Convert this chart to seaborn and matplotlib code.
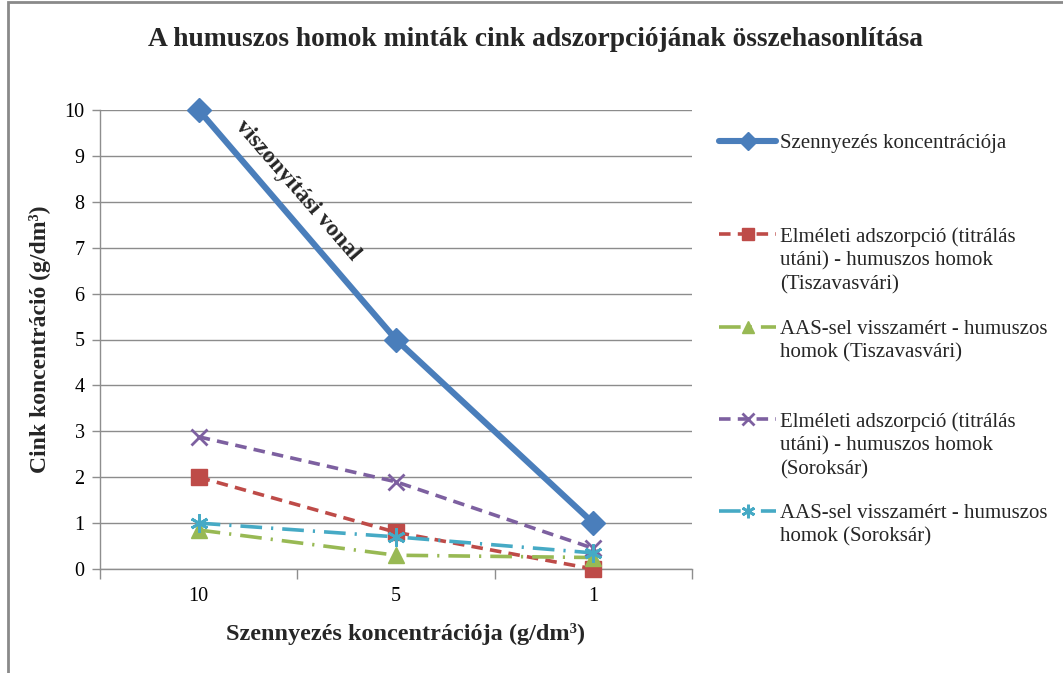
import matplotlib
matplotlib.use("Agg")
import matplotlib.pyplot as plt
import seaborn as sns
import pandas as pd
from matplotlib.patches import Rectangle

# Category axis (pollution concentration, g/dm3)
categories = ["10", "5", "1"]

# Series values (zinc concentration, g/dm3)
reference_line = [10, 5, 1]
theor_tiszavasvari = [2.0, 0.8, 0.0]
aas_tiszavasvari = [0.85, 0.3, 0.25]
theor_soroksar = [2.88, 1.9, 0.45]
aas_soroksar = [1.0, 0.7, 0.35]

series_names = [
    "Szennyezés koncentrációja",
    "Elméleti adszorpció (titrálás\nutáni) - humuszos homok\n(Tiszavasvári)",
    "AAS-sel visszamért - humuszos\nhomok (Tiszavasvári)",
    "Elméleti adszorpció (titrálás\nutáni) - humuszos homok\n(Soroksár)",
    "AAS-sel visszamért - humuszos\nhomok (Soroksár)",
]
series_values = [reference_line, theor_tiszavasvari, aas_tiszavasvari,
                 theor_soroksar, aas_soroksar]

title = "A humuszos homok minták cink adszorpciójának összehasonlítása"
x_label = "Szennyezés koncentrációja (g/dm³)"
y_label = "Cink koncentráció (g/dm³)"
annotation = "viszonyítási vonal"

colors = ["#4A7EBB", "#BE4B48", "#98B954", "#7D60A0", "#46AAC5"]
markers = ["D", "s", "^", "x", (6, 2, 0)]
marker_sizes = [12, 11, 11, 11, 13]
line_widths = [4.4, 2.6, 2.6, 2.6, 2.6]
dash_patterns = [None, (3.2, 2.0), (6, 2.5, 0.6, 2.5), (3.2, 2.0), (6, 2.5, 0.6, 2.5)]

sns.set_theme(style="white")
serif = ["Liberation Serif", "DejaVu Serif"]
plt.rcParams["font.family"] = serif

fig = plt.figure(figsize=(10.63, 6.73), dpi=100)
ax = fig.add_axes([100 / 1063, 1 - 569 / 673, 592 / 1063, 459 / 673])

df = pd.DataFrame({"cat": categories})
handles = []
for name, vals, col, mk, ms, lw, dp in zip(series_names, series_values, colors,
                                            markers, marker_sizes, line_widths,
                                            dash_patterns):
    df["val"] = vals
    sns.lineplot(data=df, x="cat", y="val", ax=ax, sort=False, color=col,
                 marker=mk, markersize=ms, linewidth=lw,
                 markeredgecolor=col, markerfacecolor=col,
                 markeredgewidth=2.0 if mk in ("x", (6, 2, 0)) else 1.0,
                 clip_on=False, zorder=3)
    line = ax.lines[-1]
    if dp is not None:
        line.set_dashes(dp)
        line.set_dash_capstyle("butt")
    handles.append(line)

ax.set_xlim(-0.5, 2.5)
ax.set_ylim(0, 10)
ax.set_yticks(range(0, 11))
ax.set_xticks([0, 1, 2])
ax.set_xticks([-0.5, 0.5, 1.5, 2.5], minor=True)
ax.tick_params(axis="x", which="major", length=0, labelsize=14.5, pad=13,
               labelcolor="black")
ax.tick_params(axis="x", which="minor", length=7, width=1, color="#8E8E8E",
               direction="out", bottom=True)
ax.tick_params(axis="y", length=6, width=1, color="#8E8E8E", direction="out",
               left=True, labelsize=14.5, pad=5, labelcolor="black")
ax.yaxis.grid(True, color="#8C8C8C", linewidth=1.0)
ax.xaxis.grid(False)
ax.set_axisbelow(True)
for side in ("top", "right"):
    ax.spines[side].set_visible(False)
for side in ("left", "bottom"):
    ax.spines[side].set_color("#8E8E8E")
    ax.spines[side].set_linewidth(1.0)

ax.set_xlabel(x_label, fontsize=17.5, fontweight="bold")
ax.xaxis.set_label_coords(0.516, -0.118)
ax.set_ylabel(y_label, fontsize=17, fontweight="bold", labelpad=10)

ax.text(0.5, 8.25, annotation, rotation=-49, rotation_mode="anchor",
        ha="center", va="center", fontsize=17, fontweight="bold", zorder=4)

fig.text(535 / 1063, 1 - 40 / 673, title, ha="center", va="center",
         fontsize=19.8, fontweight="bold")

# Legend entries placed in their own slots; handle sits beside the first line
legend_tops = [134, 227, 320, 412, 504]
for h, name, yt in zip(handles, series_names, legend_tops):
    leg = fig.legend(handles=[h], labels=[name], loc="upper left",
                     bbox_to_anchor=(719 / 1063, 1 - yt / 673), frameon=False,
                     fontsize=15, handlelength=2.75, handletextpad=0.2,
                     borderpad=0, borderaxespad=0, markerscale=0.75)
    for t in leg.get_texts():
        t.set_linespacing(1.32)
    for column in leg._legend_handle_box.get_children():
        for item in column.get_children():
            item.align = "top"

# Chart area border
fig.patches.append(Rectangle((8 / 1063, -0.01), 1.1, 1 - 2 / 673 + 0.01,
                             transform=fig.transFigure, fill=False,
                             edgecolor="#8A8A8A", linewidth=2.0))

fig.savefig("out.png", dpi=100)
